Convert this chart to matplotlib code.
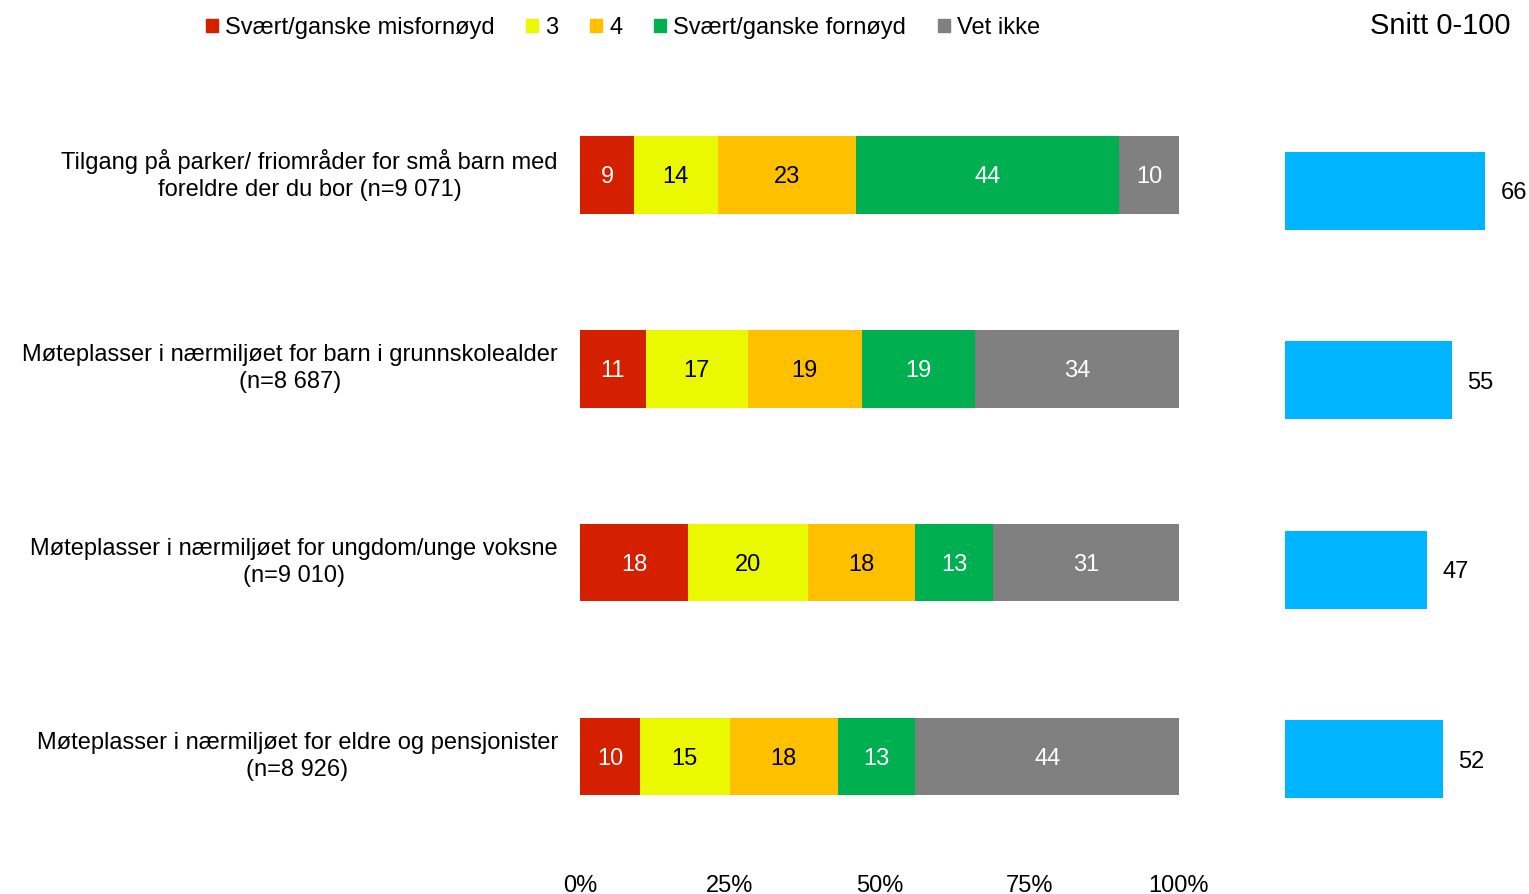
import numpy as np
import matplotlib.pyplot as plt
from matplotlib.patches import Patch

plt.rcParams['font.family'] = ['Liberation Sans', 'DejaVu Sans']

categories = ['Tilgang på parker/ friområder for små barn med\nforeldre der du bor (n=9 071)',
              'Møteplasser i nærmiljøet for barn i grunnskolealder\n(n=8 687)',
              'Møteplasser i nærmiljøet for ungdom/unge voksne\n(n=9 010)',
              'Møteplasser i nærmiljøet for eldre og pensjonister\n(n=8 926)']
series = ['Svært/ganske misfornøyd', '3', '4', 'Svært/ganske fornøyd', 'Vet ikke']
misfornoyd = [9, 11, 18, 10]
tre = [14, 17, 20, 15]
fire = [23, 19, 18, 18]
fornoyd = [44, 19, 13, 13]
vet_ikke = [10, 34, 31, 44]
snitt = [66, 55, 47, 52]

colors = ['#D52000', '#EAF800', '#FFC000', '#00B050', '#808080']
txtcol = ['white', 'black', 'black', 'white', 'white']
fs = 17

fig = plt.figure(figsize=(15.29, 8.94), dpi=100)
ax = fig.add_axes([580/1529, (894-853.5)/894, 599/1529, 775.5/894])
ax2 = fig.add_axes([1285/1529, (894-854)/894, 244/1529, 758/894])

y = np.arange(len(categories))
left = np.zeros(len(categories))
vals = [misfornoyd, tre, fire, fornoyd, vet_ikke]
for i, v in enumerate(vals):
    v = np.array(v)
    ax.barh(y, v, left=left, height=0.4, color=colors[i], label=series[i])
    for j in range(len(y)):
        ax.text(left[j] + v[j]/2, y[j], str(v[j]), ha='center', va='center_baseline',
                color=txtcol[i], fontsize=fs)
    left += v

ax.set_xlim(0, 100)
ax.set_ylim(3.5, -0.5)
ax.set_xticks([0, 25, 50, 75, 100])
ax.set_xticklabels(['0%', '25%', '50%', '75%', '100%'], fontsize=fs)
ax.set_yticks(y)
ax.set_yticklabels(categories, fontsize=fs, multialignment='center', linespacing=1.3,
                   va='center')
ax.tick_params(length=0)
ax.tick_params(axis='x', pad=15.5)
ax.tick_params(axis='y', pad=16)
for s in ax.spines.values():
    s.set_visible(False)

ax2.barh(y, snitt, height=0.41, color='#00B4FF')
for j in range(len(y)):
    ax2.annotate(str(snitt[j]), (snitt[j], y[j]), xytext=(11, 0), textcoords='offset points',
                 ha='left', va='center_baseline', fontsize=fs)
ax2.set_xlim(0, 80.5)
ax2.set_ylim(3.5, -0.5)
ax2.axis('off')

fig.text(1510/1529, 1-26/894, 'Snitt 0-100', ha='right', va='center', fontsize=21)

handles = [Patch(color=c) for c in colors]
fig.legend(handles, series, loc='center', bbox_to_anchor=(623/1529, 1-28/894), ncol=5,
           frameon=False, fontsize=fs, handlelength=0.5, handleheight=0.5,
           handletextpad=0.3, columnspacing=1.35)

fig.savefig('out.png', dpi=100)
